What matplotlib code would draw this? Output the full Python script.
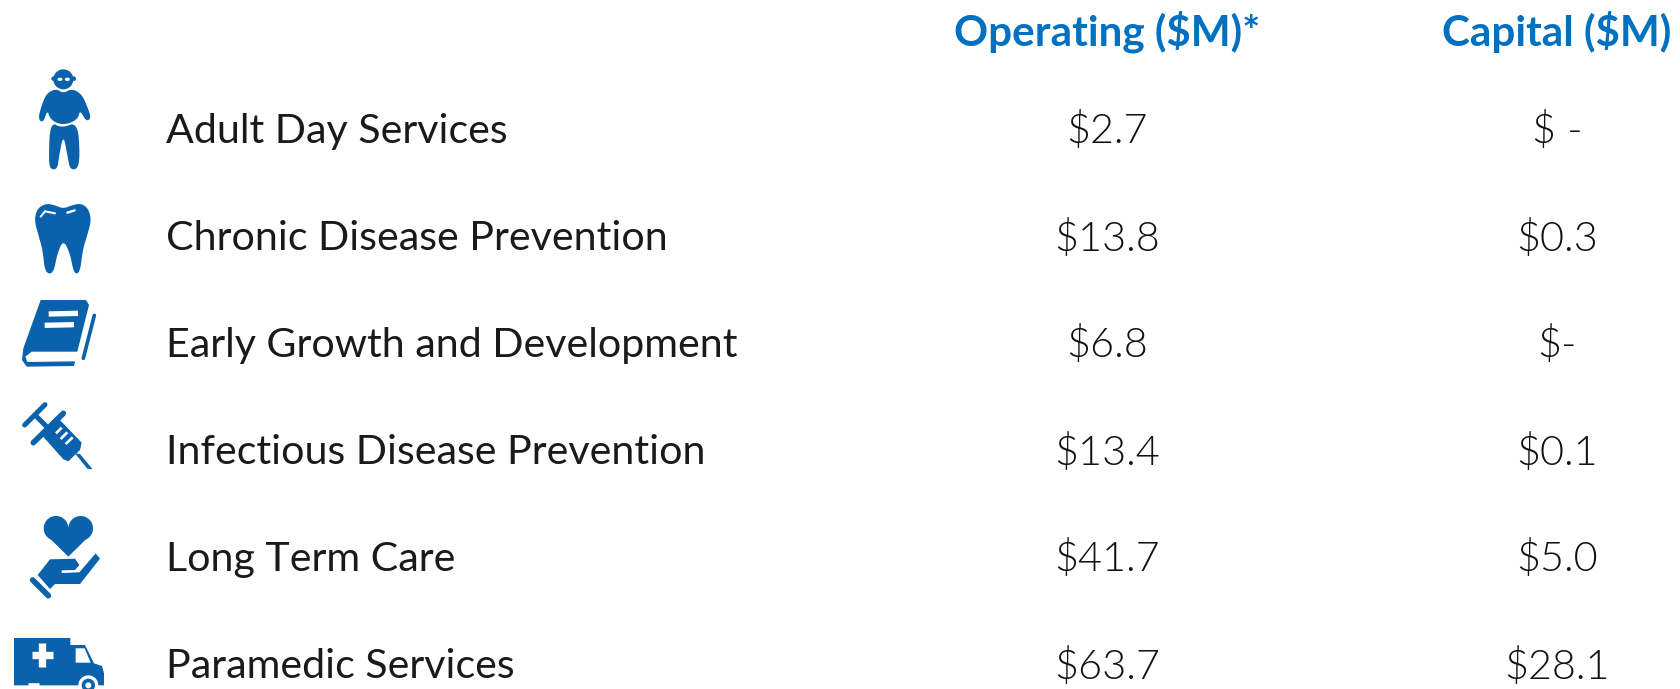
import matplotlib
matplotlib.use('Agg')
import matplotlib.pyplot as plt
from matplotlib.patches import Polygon, Circle, Ellipse

programs = ['Adult Day Services', 'Chronic Disease Prevention',
            'Early Growth and Development', 'Infectious Disease Prevention',
            'Long Term Care', 'Paramedic Services']
operating = ['$2.7', '$13.8', '$6.8', '$13.4', '$41.7', '$63.7']
capital = ['$ -', '$0.3', '$-', '$0.1', '$5.0', '$28.1']
headers = ['Operating ($M)*', 'Capital ($M)']

row_y = [131, 239, 345, 452, 559, 667]
BLUE = '#0A62AC'
HEAD = '#0070C0'

fig = plt.figure(figsize=(16.8, 6.89), dpi=100)
ax = fig.add_axes([0, 0, 1, 1])
ax.set_xlim(0, 1680)
ax.set_ylim(689, 0)
ax.axis('off')


def smooth(pts, n=2):
    # chaikin corner cutting, closed outline
    for _ in range(n):
        out = []
        for i in range(len(pts)):
            a, b = pts[i], pts[(i + 1) % len(pts)]
            out.append((0.75*a[0] + 0.25*b[0], 0.75*a[1] + 0.25*b[1]))
            out.append((0.25*a[0] + 0.75*b[0], 0.25*a[1] + 0.75*b[1]))
        pts = out
    return pts


class Icon():
    # icon outlines were measured on a 3x crop, so keep those units here
    def __init__(self, y0):
        self.y0 = y0

    def xy(self, p):
        return (p[0]/3, self.y0 + p[1]/3)

    def poly(self, pts, c=BLUE, soft=False):
        if soft:
            pts = smooth(pts)
        ax.add_patch(Polygon([self.xy(p) for p in pts], closed=True, fc=c,
                             ec='none', zorder=3))

    def circ(self, x, y, r, c=BLUE):
        ax.add_patch(Circle(self.xy((x, y)), r/3, fc=c, ec='none', zorder=3))

    def line(self, a, b, w, c=BLUE, cap='round'):
        p, q = self.xy(a), self.xy(b)
        ax.plot([p[0], q[0]], [p[1], q[1]], c=c, lw=w*0.24,
                solid_capstyle=cap, zorder=4)


# person
top = Icon(50)
top.circ(190, 88, 30)
top.circ(161, 86, 7)
top.circ(221, 86, 7)
for gx in (180, 202):
    ax.add_patch(Ellipse(top.xy((gx, 88)), 5, 3.4, fc='white', ec='none', zorder=4))
top.poly([(168, 116), (190, 130), (215, 116), (245, 132), (262, 170), (274, 205),
          (258, 214), (240, 180), (234, 206), (205, 222), (175, 222), (150, 206),
          (142, 180), (130, 218), (114, 208), (125, 165), (140, 130)], soft=True)
top.poly([(151, 216), (185, 234), (233, 216), (240, 320), (232, 358), (210, 358),
          (203, 320), (190, 252), (177, 320), (172, 358), (150, 358), (146, 320)],
         soft=True)

# tooth
top.poly([(103, 510), (112, 475), (140, 460), (165, 466), (190, 476), (215, 466),
          (242, 460), (265, 475), (274, 510), (262, 555), (248, 600), (240, 668),
          (222, 672), (210, 610), (190, 570), (172, 610), (160, 672), (135, 668),
          (128, 600), (115, 555)], soft=True)
top.line((122, 500), (135, 484), 6, c='white')
top.line((135, 484), (165, 490), 6, c='white')
top.line((202, 488), (224, 481), 7, c='white')

# book
top.poly([(122, 750), (258, 750), (267, 765), (232, 905), (95, 905), (76, 920),
          (82, 936), (225, 934), (222, 948), (80, 950), (66, 930), (70, 895)])
top.line((146, 792), (234, 790), 16, c='white', cap='butt')
top.line((134, 826), (222, 824), 16, c='white', cap='butt')
top.line((283, 796), (250, 925), 11)

# syringe
low = Icon(370)
low.line((74, 165), (135, 104), 15)
low.line((105, 135), (150, 180), 15)
low.line((100, 218), (190, 130), 17)
low.poly([(125, 195), (178, 148), (245, 218), (240, 240), (205, 274), (190, 268)])
low.line((168, 190), (185, 173), 8, c='white', cap='butt')
low.line((182, 207), (202, 187), 8, c='white', cap='butt')
low.line((197, 222), (218, 202), 8, c='white', cap='butt')
low.poly([(225, 250), (240, 252), (278, 298), (262, 296)])

# heart and hand
low.circ(168, 475, 37)
low.circ(242, 475, 37)
low.poly([(134, 490), (205, 560), (276, 490), (205, 470)])
low.poly([(150, 568), (225, 566), (238, 585), (225, 600), (185, 601), (185, 609),
          (238, 607), (287, 550), (300, 566), (240, 642), (165, 642), (150, 657),
          (113, 615)])
low.line((98, 630), (145, 677), 17)

# ambulance
low.poly([(42, 804), (211, 804), (211, 825), (255, 825), (282, 880), (306, 888),
          (312, 910), (312, 946), (42, 946)])
low.poly([(227, 835), (254, 835), (272, 878), (227, 878)], c='white')
low.line((95, 855), (159, 855), 22, c='white', cap='butt')
low.line((127, 820), (127, 892), 22, c='white', cap='butt')
low.circ(265, 946, 30, c='white')
low.circ(265, 946, 20)
low.circ(265, 946, 9, c='white')
low.line((85, 946), (118, 946), 14, c='white', cap='butt')

for i, name in enumerate(programs):
    ax.text(166, row_y[i], name, family='Lato', fontsize=29.6, color='#1a1a1a',
            va='center', ha='left')
    ax.text(1107, row_y[i], operating[i], family='Lato', weight=300,
            fontsize=29.8, color='#111111', va='center', ha='center')
    ax.text(1557, row_y[i], capital[i], family='Lato', weight=300,
            fontsize=29.8, color='#111111', va='center', ha='center')

ax.text(1107, 32, headers[0], family='Lato', weight='bold', fontsize=30.4,
        color=HEAD, va='center', ha='center')
ax.text(1557, 32, headers[1], family='Lato', weight='bold', fontsize=30.4,
        color=HEAD, va='center', ha='center')

fig.savefig('out.png', dpi=100)
